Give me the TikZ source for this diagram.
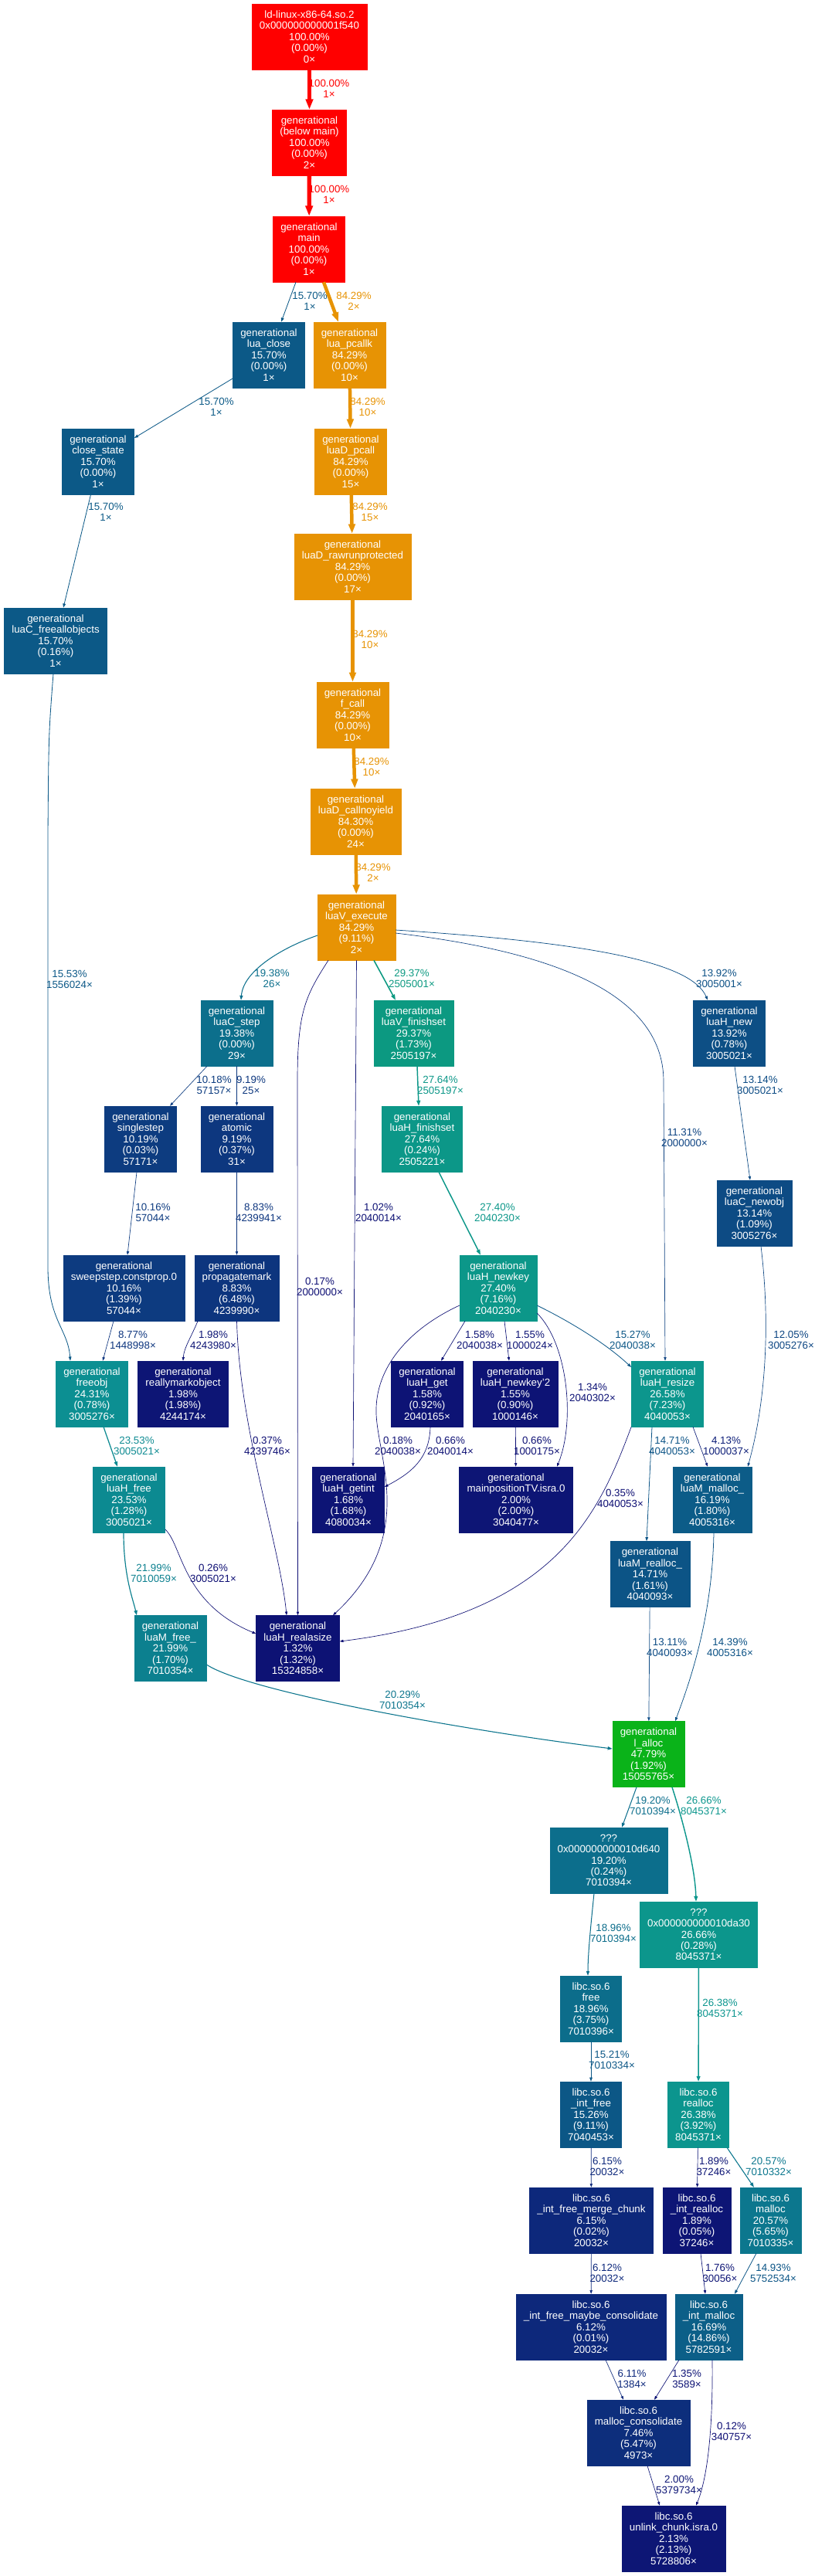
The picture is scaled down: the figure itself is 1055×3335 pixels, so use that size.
\documentclass[tikz,border=0pt]{standalone}
\usepackage{fontspec}
\setmainfont{Liberation Sans}
\usepackage{tikz}
\usetikzlibrary{arrows.meta,calc}

\newcommand{\gpcol}[2]{%
  \pgfmathsetmacro\gph{2/3*(1-#2)}%
  \pgfmathsetmacro\gps{0.8+0.2*#2}%
  \pgfmathsetmacro\gpv{(0.25+0.25*#2)*(1+\gps)}%
  \pgfmathsetmacro\gpsv{2*\gps/(1+\gps)}%
  \definecolor{gptmp}{hsb}{\gph,\gpsv,\gpv}%
  \colorlet{#1}[rgb]{gptmp}}

\tikzset{
  fn/.code={\gpcol{nc}{#1}\pgfkeysalso{rectangle, fill=nc, draw=nc, text=white, align=center, inner xsep=7.4pt, inner ysep=0pt, minimum height=63.75pt, font=\fontsize{10}{10.8}\selectfont}},
  ed/.code={\gpcol{ec}{#1}%
    \pgfmathsetmacro\gpw{max(4*#1,0.5)}%
    \pgfmathsetmacro\gpa{5*sqrt(\gpw)}%
    \pgfmathsetmacro\gpb{0.7*\gpa}%
    \edef\gpset{\noexpand\pgfkeysalso{color=ec, line width=\gpw pt, -{Triangle[length=\gpa pt, width=\gpb pt]}}}\gpset},
  lab/.style={align=center, inner sep=0pt, font=\fontsize{10}{10.8}\selectfont}
}

\begin{document}
\begin{tikzpicture}[x=0.75pt, y=-0.75pt]
\useasboundingbox (0,0) rectangle (1055,3335);

\node[fn=1] (ld) at (400.5,47.5) {ld-linux-x86-64.so.2\\0x000000000001f540\\100.00\%\\(0.00\%)\\0×};
\node[fn=1] (below) at (400.5,184.5) {generational\\(below main)\\100.00\%\\(0.00\%)\\2×};
\node[fn=1] (main) at (400,322.5) {generational\\main\\100.00\%\\(0.00\%)\\1×};
\node[fn=0.157] (lclose) at (348,459.5) {generational\\lua\_close\\15.70\%\\(0.00\%)\\1×};
\node[fn=0.8429] (pcallk) at (452.5,459.5) {generational\\lua\_pcallk\\84.29\%\\(0.00\%)\\10×};
\node[fn=0.157] (cstate) at (127,597.5) {generational\\close\_state\\15.70\%\\(0.00\%)\\1×};
\node[fn=0.8429] (dpcall) at (454,597.5) {generational\\luaD\_pcall\\84.29\%\\(0.00\%)\\15×};
\node[fn=0.8429] (rawrun) at (456.5,733.5) {generational\\luaD\_rawrunprotected\\84.29\%\\(0.00\%)\\17×};
\node[fn=0.157] (freeall) at (72,829.5) {generational\\luaC\_freeallobjects\\15.70\%\\(0.16\%)\\1×};
\node[fn=0.8429] (fcall) at (456.5,925.5) {generational\\f\_call\\84.29\%\\(0.00\%)\\10×};
\node[fn=0.843] (noyield) at (460.5,1063.5) {generational\\luaD\_callnoyield\\84.30\%\\(0.00\%)\\24×};
\node[fn=0.8429] (vexec) at (461.5,1200.5) {generational\\luaV\_execute\\84.29\%\\(9.11\%)\\2×};
\node[fn=0.1938] (cstep) at (306.5,1337.5) {generational\\luaC\_step\\19.38\%\\(0.00\%)\\29×};
\node[fn=0.2937] (vfinish) at (535.5,1337.5) {generational\\luaV\_finishset\\29.37\%\\(1.73\%)\\2505197×};
\node[fn=0.1392] (hnew) at (944,1337.5) {generational\\luaH\_new\\13.92\%\\(0.78\%)\\3005021×};
\node[fn=0.1019] (sstep) at (182,1474.5) {generational\\singlestep\\10.19\%\\(0.03\%)\\57171×};
\node[fn=0.0919] (atomic) at (306.5,1474.5) {generational\\atomic\\9.19\%\\(0.37\%)\\31×};
\node[fn=0.2764] (hfinish) at (546.5,1474.5) {generational\\luaH\_finishset\\27.64\%\\(0.24\%)\\2505221×};
\node[fn=0.1314] (newobj) at (976.5,1570.5) {generational\\luaC\_newobj\\13.14\%\\(1.09\%)\\3005276×};
\node[fn=0.1016] (sweep) at (160.5,1667.5) {generational\\sweepstep.constprop.0\\10.16\%\\(1.39\%)\\57044×};
\node[fn=0.0883] (propag) at (306.5,1667.5) {generational\\propagatemark\\8.83\%\\(6.48\%)\\4239990×};
\node[fn=0.274] (newkey) at (645,1667.5) {generational\\luaH\_newkey\\27.40\%\\(7.16\%)\\2040230×};
\node[fn=0.2431] (freeobj) at (119,1804.5) {generational\\freeobj\\24.31\%\\(0.78\%)\\3005276×};
\node[fn=0.0198] (rmark) at (237,1804.5) {generational\\reallymarkobject\\1.98\%\\(1.98\%)\\4244174×};
\node[fn=0.0158] (hget) at (553,1804.5) {generational\\luaH\_get\\1.58\%\\(0.92\%)\\2040165×};
\node[fn=0.0155] (newkey2) at (667,1804.5) {generational\\luaH\_newkey\symbol{39}2\\1.55\%\\(0.90\%)\\1000146×};
\node[fn=0.2658] (resize) at (864,1804.5) {generational\\luaH\_resize\\26.58\%\\(7.23\%)\\4040053×};
\node[fn=0.2353] (hfree) at (167,1941.5) {generational\\luaH\_free\\23.53\%\\(1.28\%)\\3005021×};
\node[fn=0.0168] (getint) at (451,1941.5) {generational\\luaH\_getint\\1.68\%\\(1.68\%)\\4080034×};
\node[fn=0.02] (mainpos) at (668,1941.5) {generational\\mainpositionTV.isra.0\\2.00\%\\(2.00\%)\\3040477×};
\node[fn=0.1619] (mmalloc) at (922,1941.5) {generational\\luaM\_malloc\_\\16.19\%\\(1.80\%)\\4005316×};
\node[fn=0.1471] (mrealloc) at (841.5,2038) {generational\\luaM\_realloc\_\\14.71\%\\(1.61\%)\\4040093×};
\node[fn=0.2199] (mfree) at (220.5,2134) {generational\\luaM\_free\_\\21.99\%\\(1.70\%)\\7010354×};
\node[fn=0.0132] (realasize) at (385.5,2134) {generational\\luaH\_realasize\\1.32\%\\(1.32\%)\\15324858×};
\node[fn=0.4779] (lalloc) at (839.5,2271) {generational\\l\_alloc\\47.79\%\\(1.92\%)\\15055765×};
\node[fn=0.192] (qd640) at (788,2408.5) {???\\0x000000000010d640\\19.20\%\\(0.24\%)\\7010394×};
\node[fn=0.2666] (qda30) at (904.5,2504.5) {???\\0x000000000010da30\\26.66\%\\(0.28\%)\\8045371×};
\node[fn=0.1896] (cfree) at (765,2600.5) {libc.so.6\\free\\18.96\%\\(3.75\%)\\7010396×};
\node[fn=0.1526] (intfree) at (765,2737.5) {libc.so.6\\\_int\_free\\15.26\%\\(9.11\%)\\7040453×};
\node[fn=0.2638] (crealloc) at (904,2737.5) {libc.so.6\\realloc\\26.38\%\\(3.92\%)\\8045371×};
\node[fn=0.0615] (merge) at (765.5,2874.5) {libc.so.6\\\_int\_free\_merge\_chunk\\6.15\%\\(0.02\%)\\20032×};
\node[fn=0.0189] (intrealloc) at (902,2874.5) {libc.so.6\\\_int\_realloc\\1.89\%\\(0.05\%)\\37246×};
\node[fn=0.2057] (cmalloc) at (997.5,2874.5) {libc.so.6\\malloc\\20.57\%\\(5.65\%)\\7010335×};
\node[fn=0.0612] (maybecons) at (765,3012.5) {libc.so.6\\\_int\_free\_maybe\_consolidate\\6.12\%\\(0.01\%)\\20032×};
\node[fn=0.1669] (intmalloc) at (917.5,3012.5) {libc.so.6\\\_int\_malloc\\16.69\%\\(14.86\%)\\5782591×};
\node[fn=0.0746] (mcons) at (826.5,3149.5) {libc.so.6\\malloc\_consolidate\\7.46\%\\(5.47\%)\\4973×};
\node[fn=0.0213] (unlink) at (872,3286.5) {libc.so.6\\unlink\_chunk.isra.0\\2.13\%\\(2.13\%)\\5728806×};

\draw[ed=1] (ld) -- (below) node[lab] at (426,115) {100.00\%\\1×};
\draw[ed=1] (below) -- (main) node[lab] at (426,252) {100.00\%\\1×};
\draw[ed=0.157] ($(main.south)+(-17,0)$) -- ($(lclose.north)+(16,0)$) node[lab] at (401,390) {15.70\%\\1×};
\draw[ed=0.8429] ($(main.south)+(19,0)$) -- ($(pcallk.north)+(-14.5,0)$) node[lab] at (458,390) {84.29\%\\2×};
\draw[ed=0.157] ($(lclose.west)+(0,30.5)$) -- ($(cstate.east)+(0,-30.5)$) node[lab] at (280,527) {15.70\%\\1×};
\draw[ed=0.8429] (pcallk) -- (dpcall) node[lab] at (476,527) {84.29\%\\10×};
\draw[ed=0.157] ($(cstate.south)+(-9.5,0)$) -- ($(freeall.north)+(10,0)$) node[lab] at (137,663) {15.70\%\\1×};
\draw[ed=0.8429] (dpcall) -- (rawrun) node[lab] at (479,663) {84.29\%\\15×};
\draw[ed=0.8429] (rawrun) -- (fcall) node[lab] at (479,828) {84.29\%\\10×};
\draw[ed=0.8429] (fcall) -- (noyield) node[lab] at (481,993) {84.29\%\\10×};
\draw[ed=0.8429] (noyield) -- (vexec) node[lab] at (483,1130) {84.29\%\\2×};
\draw[ed=0.1553] ($(freeall.south)+(-3,0)$) .. controls (63,950) .. (62,1080) -- (62,1640) .. controls (62,1710) and (88,1720) .. ($(freeobj.north)+(-28,0)$) node[lab] at (90,1268) {15.53\%\\1556024×};
\draw[ed=0.1938] ($(vexec.west)+(0,10.5)$) .. controls (370,1225) and (315,1255) .. ($(cstep.north)+(5.5,0)$) node[lab] at (352,1267) {19.38\%\\26×};
\draw[ed=0.2937] ($(vexec.south)+(22.5,0)$) -- ($(vfinish.north)+(-23.5,0)$) node[lab] at (533,1267) {29.37\%\\2505001×};
\draw[ed=0.1392] ($(vexec.east)+(0,3.5)$) .. controls (760,1220) and (895,1245) .. ($(hnew.north)+(-28,0)$) node[lab] at (931,1267) {13.92\%\\3005001×};
\draw[ed=0.1131] ($(vexec.east)+(0,7.5)$) .. controls (700,1230) and (859,1280) .. (859,1400) -- ($(resize.north)+(-3,0)$) node[lab] at (886,1473) {11.31\%\\2000000×};
\draw[ed=0.0102] (vexec.south) -- ($(getint.north)+(6,0)$) node[lab] at (490,1570) {1.02\%\\2040014×};
\draw[ed=0.0017] ($(vexec.south)+(-36.5,0)$) .. controls (395,1290) and (385,1310) .. (385,1400) -- (realasize.north) node[lab] at (414,1666) {0.17\%\\2000000×};
\draw[ed=0.1018] ($(cstep.south)+(-38.5,0)$) -- ($(sstep.north)+(38,0)$) node[lab] at (277,1405) {10.18\%\\57157×};
\draw[ed=0.0919] (cstep) -- (atomic) node[lab] at (325,1405) {9.19\%\\25×};
\draw[ed=0.2764] ($(vfinish.south)+(4.5,0)$) -- ($(hfinish.north)+(-4.5,0)$) node[lab] at (570,1405) {27.64\%\\2505197×};
\draw[ed=0.1314] ($(hnew.south)+(7,0)$) -- ($(newobj.north)+(-5.5,0)$) node[lab] at (984,1405) {13.14\%\\3005021×};
\draw[ed=0.274] ($(hfinish.south)+(21.5,0)$) -- ($(newkey.north)+(-23,0)$) node[lab] at (644,1570) {27.40\%\\2040230×};
\draw[ed=0.1016] ($(sstep.south)+(-5,0)$) -- ($(sweep.north)+(4.5,0)$) node[lab] at (198,1570) {10.16\%\\57044×};
\draw[ed=0.0883] (atomic) -- (propag) node[lab] at (335,1570) {8.83\%\\4239941×};
\draw[ed=0.1205] ($(newobj.south)+(8.5,0)$) .. controls (998,1720) and (990,1820) .. ($(mmalloc.north)+(46,0)$) node[lab] at (1024,1735) {12.05\%\\3005276×};
\draw[ed=0.0877] ($(sweep.south)+(-13.5,0)$) -- ($(freeobj.north)+(14,0)$) node[lab] at (172,1735) {8.77\%\\1448998×};
\draw[ed=0.0198] ($(propag.south)+(-50.5,0)$) .. controls (248,1730) and (238,1745) .. (rmark.north) node[lab] at (276,1735) {1.98\%\\4243980×};
\draw[ed=0.0037] (propag.south) .. controls (310,1850) and (362,2000) .. ($(realasize.north)+(-14.5,0)$) node[lab] at (346,1872) {0.37\%\\4239746×};
\draw[ed=0.0158] ($(newkey.south)+(-43,0)$) -- ($(hget.north)+(18,0)$) node[lab] at (621,1735) {1.58\%\\2040038×};
\draw[ed=0.0155] ($(newkey.south)+(8,0)$) -- ($(newkey2.north)+(-8,0)$) node[lab] at (686,1735) {1.55\%\\1000024×};
\draw[ed=0.1527] ($(newkey.east)+(0,22.5)$) .. controls (740,1712) and (785,1740) .. ($(resize.west)+(0,-34.5)$) node[lab] at (819,1735) {15.27\%\\2040038×};
\draw[ed=0.0134] ($(newkey.east)+(0,32.5)$) .. controls (735,1740) and (745,1840) .. ($(mainpos.north)+(53,0)$) node[lab] at (767,1803) {1.34\%\\2040302×};
\draw[ed=0.0018] ($(newkey.west)+(0,22.5)$) .. controls (530,1720) and (485,1770) .. (487,1830) .. controls (489,1890) and (540,1990) .. ($(realasize.north)+(45.5,0)$) node[lab] at (515,1872) {0.18\%\\2040038×};
\draw[ed=0.0066] ($(hget.south)+(4,0)$) .. controls (556,1890) and (530,1908) .. ($(getint.east)+(0,-16.5)$) node[lab] at (583,1872) {0.66\%\\2040014×};
\draw[ed=0.0066] (newkey2) -- (mainpos) node[lab] at (695,1872) {0.66\%\\1000175×};
\draw[ed=0.1471] ($(resize.south)+(-20,0)$) -- ($(mrealloc.north)+(-4.5,0)$) node[lab] at (870,1872) {14.71\%\\4040053×};
\draw[ed=0.0413] ($(resize.south)+(33,0)$) -- ($(mmalloc.north)+(-6,0)$) node[lab] at (940,1872) {4.13\%\\1000037×};
\draw[ed=0.0035] (resize.south west) .. controls (775,1960) and (720,2090) .. ($(realasize.east)+(0,-9)$) node[lab] at (803,1940) {0.35\%\\4040053×};
\draw[ed=0.2353] ($(freeobj.south)+(15,0)$) -- ($(hfree.north)+(-15,0)$) node[lab] at (177,1872) {23.53\%\\3005021×};
\draw[ed=0.2199] ($(hfree.south)+(-7,0)$) .. controls (160,2040) and (172,2070) .. ($(mfree.north)+(-43.5,0)$) node[lab] at (199,2037) {21.99\%\\7010059×};
\draw[ed=0.0026] ($(hfree.east)+(0,38.5)$) .. controls (236,2000) and (235,2075) .. ($(realasize.west)+(0,-19)$) node[lab] at (276,2037) {0.26\%\\3005021×};
\draw[ed=0.2029] ($(mfree.east)+(0,21)$) .. controls (320,2190) and (600,2240) .. ($(lalloc.west)+(0,-7)$) node[lab] at (521,2201) {20.29\%\\7010354×};
\draw[ed=0.1311] (mrealloc) -- (lalloc) node[lab] at (867,2133) {13.11\%\\4040093×};
\draw[ed=0.1439] ($(mmalloc.south)+(2,0)$) .. controls (922,2100) and (890,2185) .. ($(lalloc.north)+(34.5,0)$) node[lab] at (945,2133) {14.39\%\\4005316×};
\draw[ed=0.192] ($(lalloc.south)+(-15.5,0)$) -- ($(qd640.north)+(17,0)$) node[lab] at (845,2338) {19.20\%\\7010394×};
\draw[ed=0.2666] ($(lalloc.south)+(30.5,0)$) .. controls (885,2360) and (900,2420) .. ($(qda30.north)+(-3.5,0)$) node[lab] at (911,2338) {26.66\%\\8045371×};
\draw[ed=0.1896] ($(qd640.south)+(-19,0)$) .. controls (765,2490) and (761,2530) .. ($(cfree.north)+(-4,0)$) node[lab] at (794,2503) {18.96\%\\7010394×};
\draw[ed=0.2638] (qda30) -- (crealloc) node[lab] at (932,2600) {26.38\%\\8045371×};
\draw[ed=0.1521] (cfree) -- (intfree) node[lab] at (792,2667) {15.21\%\\7010334×};
\draw[ed=0.0615] (intfree) -- (merge) node[lab] at (786,2805) {6.15\%\\20032×};
\draw[ed=0.0189] (crealloc) -- (intrealloc) node[lab] at (924,2805) {1.89\%\\37246×};
\draw[ed=0.2057] ($(crealloc.south)+(37,0)$) -- ($(cmalloc.north)+(-21.5,0)$) node[lab] at (995,2805) {20.57\%\\7010332×};
\draw[ed=0.0612] (merge) -- (maybecons) node[lab] at (786,2943) {6.12\%\\20032×};
\draw[ed=0.0176] ($(intrealloc.south)+(5,0)$) -- ($(intmalloc.north)+(-4.5,0)$) node[lab] at (932,2943) {1.76\%\\30056×};
\draw[ed=0.1493] ($(cmalloc.south)+(-18.5,0)$) -- ($(intmalloc.north)+(33.5,0)$) node[lab] at (1001,2943) {14.93\%\\5752534×};
\draw[ed=0.0611] ($(maybecons.south)+(19,0)$) -- ($(mcons.north)+(-19.5,0)$) node[lab] at (818,3080) {6.11\%\\1384×};
\draw[ed=0.0135] ($(intmalloc.south)+(-38.5,0)$) -- ($(mcons.north)+(20.5,0)$) node[lab] at (889,3080) {1.35\%\\3589×};
\draw[ed=0.0012] ($(intmalloc.south)+(4.5,0)$) .. controls (923,3150) and (915,3210) .. ($(unlink.north)+(29,0)$) node[lab] at (947,3148) {0.12\%\\340757×};
\draw[ed=0.02] ($(mcons.south)+(11.5,0)$) -- ($(unlink.north)+(-18,0)$) node[lab] at (879,3217) {2.00\%\\5379734×};
\end{tikzpicture}
\end{document}
